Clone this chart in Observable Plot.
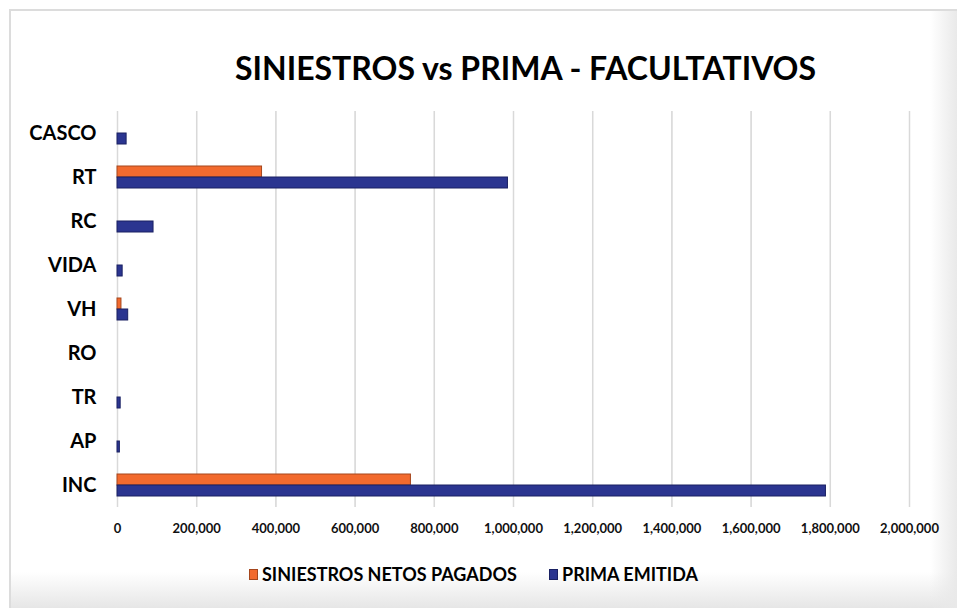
<!DOCTYPE html>
<html>
<head>
<meta charset="utf-8">
<script src="https://cdn.jsdelivr.net/npm/d3@7"></script>
<script src="https://cdn.jsdelivr.net/npm/@observablehq/plot@0.6"></script>
<style>
  html, body { margin: 0; padding: 0; background: #fff; }
  #page { position: relative; width: 957px; height: 608px; overflow: hidden; background: #fff; font-family: Lato, "Open Sans", sans-serif; }
  #frame { position: absolute; left: 9px; top: 9px; width: 948px; height: 599px; box-sizing: border-box;
           border-left: 2px solid #dcdcdc; border-top: 2px solid #dcdcdc; background: #fff; }
  #shadeB { position: absolute; left: 11px; top: 572px; width: 946px; height: 36px;
            background: linear-gradient(to bottom, rgba(255,255,255,0), #e6e6e6); }
  #shadeR { position: absolute; left: 930px; top: 11px; width: 27px; height: 597px;
            background: linear-gradient(to right, rgba(255,255,255,0), #e9e9e9); }
  #title { position: absolute; left: 0; width: 1051px; top: 48px; line-height: 40px; text-align: center; font-size: 32px; font-weight: 700; color: #000; white-space: nowrap; }
  #chart { position: absolute; left: 0; top: 90px; }
  #legend { position: absolute; left: 0; top: 563px; width: 957px; font-size: 18px; font-weight: 700; color: #000; white-space: nowrap; }
  .item { position: absolute; top: 0; display: flex; align-items: center; }
  .sw { display: inline-block; width: 9px; height: 11px; margin-right: 4px; }
</style>
</head>
<body>
<div id="page">
  <div id="frame"></div>
  <div id="shadeB"></div>
  <div id="shadeR"></div>
  <div id="title">SINIESTROS vs PRIMA - FACULTATIVOS</div>
  <div id="chart"></div>
  <div id="legend"></div>
</div>
<script>
const categories = ["CASCO", "RT", "RC", "VIDA", "VH", "RO", "TR", "AP", "INC"];
const seriesNames = ["SINIESTROS NETOS PAGADOS", "PRIMA EMITIDA"];
const siniestros = [0, 365000, 0, 0, 10000, 0, 0, 0, 741000];
const prima = [23000, 986000, 91000, 13000, 27000, 0, 8000, 6000, 1789000];
const xTicks = [0, 200000, 400000, 600000, 800000, 1000000, 1200000, 1400000, 1600000, 1800000, 2000000];
const seriesColors = ["#F26A2E", "#2B3590"];
const seriesStrokes = ["#a5461d", "#1a2163"];

const data = [];
categories.forEach((c, i) => {
  data.push({cat: c, serie: seriesNames[0], value: siniestros[i]});
  data.push({cat: c, serie: seriesNames[1], value: prima[i]});
});

const chart = Plot.plot({
  width: 957,
  height: 455,
  marginLeft: 117,
  marginRight: 48,
  marginTop: 20,
  marginBottom: 37,
  style: {fontFamily: "Lato, sans-serif", background: "transparent"},
  x: {domain: [0, 2000000], ticks: xTicks, tickFormat: d3.format(","), grid: true, tickSize: 0, tickPadding: 16, label: null},
  fy: {domain: categories, padding: 0, axis: "left", label: null, tickSize: 0, tickPadding: 21},
  y: {domain: seriesNames, axis: null, paddingInner: 0, paddingOuter: 0.87},
  color: {domain: seriesNames, range: seriesColors},
  marks: [
    Plot.gridX(xTicks, {stroke: "#d9d9d9", strokeOpacity: 1, strokeWidth: 1.5}),
    Plot.barX(data, {x: "value", y: "serie", fy: "cat", fill: "serie",
      stroke: d => seriesStrokes[seriesNames.indexOf(d.serie)], strokeWidth: 1})
  ]
});
document.getElementById("chart").appendChild(chart);

// style axis text
d3.select(chart).selectAll("[aria-label='x-axis tick label'] text").style("font-size", "13px").style("font-weight", "700").attr("fill", "#111");
d3.select(chart).selectAll("[aria-label='fy-axis tick label'] text").style("font-size", "20px").style("font-weight", "700").attr("fill", "#000");

// legend
const legend = d3.select("#legend");
const lx = [249, 549];
seriesNames.forEach((s, i) => {
  const it = legend.append("div").attr("class", "item").style("left", lx[i] + "px");
  it.append("span").attr("class", "sw").style("background", seriesColors[i]).style("border", "1px solid " + seriesStrokes[i]).style("box-sizing", "border-box");
  it.append("span").text(s);
});
</script>
</body>
</html>
